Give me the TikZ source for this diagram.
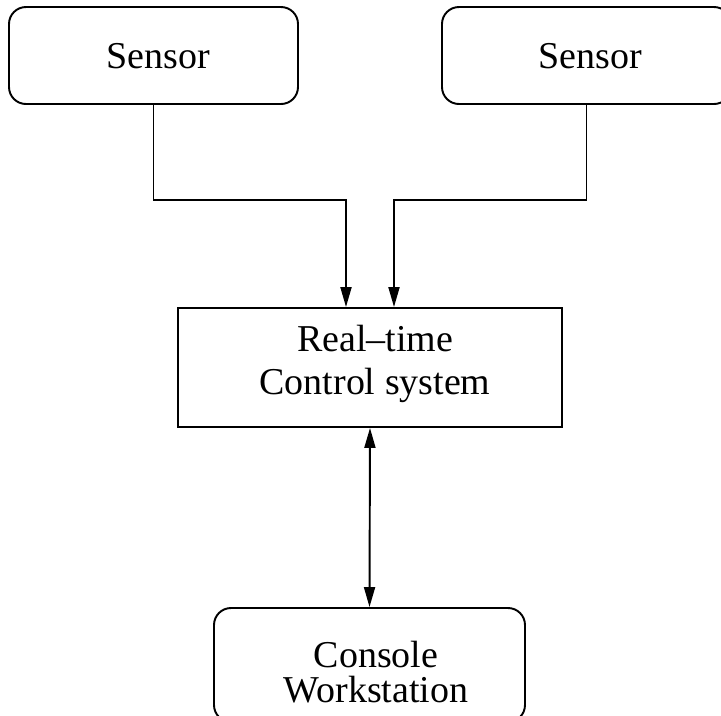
\documentclass[tikz,border=0pt]{standalone}
\usepackage{fontspec}
\setmainfont{Liberation Serif}
\usetikzlibrary{arrows.meta}
\begin{document}
\begin{tikzpicture}[
  line width=0.55pt,
  rbox/.style={draw, rounded corners=0.17cm, inner sep=0pt},
  sbox/.style={draw, inner sep=0pt},
  lbl/.style={font=\fontsize{10.8}{12}\selectfont, align=center, inner sep=0pt},
  arr/.style={-{Triangle[length=0.2cm,width=0.11cm]}},
  darr/.style={{Triangle[length=0.2cm,width=0.11cm]}-{Triangle[length=0.2cm,width=0.11cm]}}
]
\useasboundingbox (0,0) rectangle (7.21,-7.15);
\node[rbox, minimum width=2.89cm, minimum height=0.97cm] (s1) at (1.535,-0.555) {};
\node[lbl] (s1t) at (1.585,-0.56) {Sensor};
\node[rbox, minimum width=2.89cm, minimum height=0.97cm] (s2) at (5.865,-0.555) {};
\node[lbl] (s2t) at (5.905,-0.56) {Sensor};
\node[sbox, minimum width=3.84cm, minimum height=1.19cm] (ctl) at (3.70,-3.675) {};
\node[lbl, font=\fontsize{10.8}{12}\selectfont] (ctlt) at (3.75,-3.64) {Real–time\\Control system};
\node[rbox, minimum width=3.11cm, minimum height=1.14cm] (con) at (3.695,-6.65) {};
\node[lbl, font=\fontsize{10.8}{10}\selectfont] (cont) at (3.76,-6.725) {Console\\Workstation};
\draw[arr] (s1.south) -- ++(0,-0.95) -| ([xshift=-0.24cm]ctl.north);
\draw[arr] (s2.south) -- ++(0,-0.95) -| ([xshift=0.24cm]ctl.north);
\draw[darr] (ctl.south) -- (con.north);
\end{tikzpicture}
\end{document}
